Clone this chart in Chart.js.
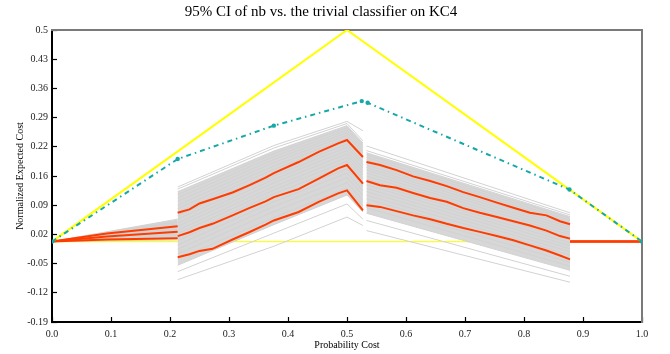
<!DOCTYPE html>
<html><head><meta charset="utf-8">
<script src="https://cdn.jsdelivr.net/npm/chart.js@4.4.1/dist/chart.umd.min.js"></script>
<style>html,body{margin:0;padding:0;background:#fff;}canvas{display:block;}</style>
</head><body>
<canvas id="c" width="670" height="354"></canvas>
<script>
// ---------- data ----------
const chartTitle = '95% CI of nb vs. the trivial classifier on KC4';
const xAxisTitle = 'Probability Cost';
const yAxisTitle = 'Normalized Expected Cost';
const xTickValues = [0,0.1,0.2,0.3,0.4,0.5,0.6,0.7,0.8,0.9,1.0];
const xTickLabels = ['0.0','0.1','0.2','0.3','0.4','0.5','0.6','0.7','0.8','0.9','1.0'];
const yTickValues = [-0.19,-0.121,-0.052,0.017,0.086,0.155,0.224,0.293,0.362,0.431,0.5];
const yTickLabels = ['-0.19','-0.12','-0.05','0.02','0.09','0.16','0.22','0.29','0.36','0.43','0.5'];

// trivial classifier
const trivialX = [0, 0.5, 1];
const trivialY = [0, 0.5, 0];
const zeroX = [0, 1];
const zeroY = [0, 0];

// dash-dot (teal) curve
const tealX = [0, 0.213, 0.376, 0.525, 0.535, 0.877, 1];
const tealY = [0, 0.195, 0.274, 0.332, 0.328, 0.123, 0];

// red curves: x per segment, y per segment
const redSegX = [
  [0, 0.093, 0.213],
  [0.213, 0.233, 0.250, 0.272, 0.306, 0.334, 0.362, 0.376, 0.418, 0.452, 0.485, 0.5, 0.527],
  [0.533, 0.556, 0.584, 0.612, 0.641, 0.669, 0.697, 0.725, 0.754, 0.782, 0.810, 0.838, 0.861, 0.878],
  [0.878, 1.0]
];
const redUpper = [
  [0, 0.019, 0.036],
  [0.068, 0.076, 0.090, 0.100, 0.116, 0.133, 0.151, 0.162, 0.188, 0.212, 0.232, 0.240, 0.200],
  [0.188, 0.181, 0.169, 0.154, 0.143, 0.131, 0.117, 0.105, 0.092, 0.080, 0.068, 0.062, 0.048, 0.041],
  [0, 0]
];
const redMiddle = [
  [0, 0.012, 0.023],
  [0.013, 0.022, 0.032, 0.042, 0.062, 0.079, 0.095, 0.105, 0.124, 0.149, 0.173, 0.181, 0.137],
  [0.143, 0.133, 0.127, 0.115, 0.103, 0.094, 0.079, 0.068, 0.058, 0.048, 0.038, 0.026, 0.013, 0.007],
  [0, 0]
];
const redLower = [
  [0, 0.005, 0.008],
  [-0.037, -0.030, -0.022, -0.017, 0.005, 0.022, 0.040, 0.050, 0.070, 0.094, 0.114, 0.121, 0.074],
  [0.086, 0.082, 0.072, 0.062, 0.053, 0.042, 0.032, 0.023, 0.013, 0.003, -0.009, -0.021, -0.033, -0.042],
  [0, 0]
];

// grey bootstrap curves: value of each curve at the segment ends
const grayX = [[0, 0.213], [0.213, 0.376, 0.5, 0.527], [0.533, 0.878]];
const grayA   = [0.053,0.051,0.048,0.047,0.045,0.042,0.041,0.039,0.036,0.035,0.033,0.030,0.029,0.027,0.024,0.023,0.021,0.018,0.017,0.015,0.012,0.010,0.007,0.004];
const grayB0  = [0.129,0.124,0.118,0.111,0.103,0.095,0.086,0.078,0.070,0.061,0.053,0.044,0.036,0.027,0.019,0.010,0.002,-0.008,-0.018,-0.029,-0.041,-0.056,-0.071,-0.090];
const grayMid = [0.227,0.221,0.214,0.208,0.201,0.194,0.187,0.179,0.171,0.163,0.155,0.147,0.139,0.130,0.122,0.113,0.104,0.094,0.083,0.071,0.057,0.040,0.020,-0.011];
const grayPeak= [0.284,0.279,0.274,0.269,0.263,0.257,0.251,0.244,0.237,0.230,0.223,0.215,0.207,0.199,0.190,0.181,0.172,0.162,0.151,0.139,0.126,0.110,0.089,0.058];
const grayD   = [0.262,0.238,0.233,0.228,0.222,0.216,0.210,0.203,0.196,0.189,0.182,0.174,0.166,0.158,0.149,0.140,0.131,0.121,0.110,0.098,0.085,0.070,0.053,0.038];
const grayE0  = [0.226,0.215,0.210,0.205,0.199,0.193,0.187,0.181,0.175,0.169,0.162,0.155,0.148,0.141,0.134,0.126,0.118,0.110,0.101,0.091,0.080,0.067,0.050,0.026];
const grayE1  = [0.068,0.063,0.059,0.055,0.050,0.045,0.040,0.034,0.028,0.022,0.016,0.010,0.004,-0.003,-0.010,-0.017,-0.024,-0.032,-0.040,-0.049,-0.058,-0.068,-0.082,-0.096];

// ---------- build ----------
function seg(xs, ys) { return xs.map((x, i) => ({x: x, y: ys[i]})); }
function joinSegs(xSegs, ySegs) {
  const out = [];
  xSegs.forEach((xs, k) => {
    if (k > 0) out.push({x: xs[0], y: null});
    out.push(...seg(xs, ySegs[k]));
  });
  return out;
}
const GRAY = '#d2d2d2';
const BAND = '#d7d7d7';
const datasets = [];
const base = {pointRadius: 0, fill: false, tension: 0, spanGaps: false};

// zero line
datasets.push({...base, data: seg(zeroX, zeroY), borderColor: '#ffff20', borderWidth: 1.3, order: 6});

// core bands
const n = grayA.length;
function bandPair(xs, topVals, botVals) {
  datasets.push({...base, data: seg(xs, topVals), borderWidth: 0, borderColor: 'rgba(0,0,0,0)', order: 5});
  datasets.push({...base, data: seg(xs, botVals), borderWidth: 0, borderColor: 'rgba(0,0,0,0)', fill: '-1', backgroundColor: BAND, order: 5});
}
bandPair(grayX[0], [0, grayA[1]], [0, grayA[n-2]]);
bandPair(grayX[1], [grayB0[2], grayMid[2], grayPeak[2], grayD[2]], [grayB0[n-3], grayMid[n-3], grayPeak[n-3], grayD[n-3]]);
bandPair(grayX[2], [grayE0[2], grayE1[2]], [grayE0[n-3], grayE1[n-3]]);

// grey lines
for (let i = 0; i < n; i++) {
  datasets.push({...base, borderColor: GRAY, borderWidth: 1, order: 4,
    data: joinSegs(grayX, [[0, grayA[i]], [grayB0[i], grayMid[i], grayPeak[i], grayD[i]], [grayE0[i], grayE1[i]]])});
}
// red lines
[redUpper, redMiddle, redLower].forEach(r => {
  datasets.push({...base, borderColor: '#ff3c00', borderWidth: 2, order: 2, data: joinSegs(redSegX, r)});
});
// trivial
datasets.push({...base, data: seg(trivialX, trivialY), borderColor: '#ffff00', borderWidth: 2, order: 1});
// teal
datasets.push({...base, data: seg(tealX, tealY), borderColor: '#16a8a8', borderWidth: 2,
  borderDash: [5, 4, 1.5, 4], pointRadius: 2.2, pointBackgroundColor: '#16a8a8', pointBorderWidth: 0, order: 0});

const serif = 'Liberation Serif';
new Chart(document.getElementById('c'), {
  type: 'line',
  data: {datasets},
  options: {
    responsive: false, animation: false, devicePixelRatio: 1,
    layout: {padding: {left: 0, right: 28, top: 0, bottom: 0}},
    plugins: {
      legend: {display: false}, tooltip: {enabled: false},
      title: {display: true, text: chartTitle, color: '#000',
        font: {family: serif, size: 15, weight: 'normal'}, padding: {top: 3, bottom: 9}}
    },
    scales: {
      x: {type: 'linear', min: 0, max: 1, position: 'bottom',
        afterBuildTicks: s => { s.ticks = xTickValues.map(v => ({value: v})); },
        afterFit: s => { s.height = 32; },
        ticks: {callback: (v, i) => xTickLabels[i], color: '#222', font: {family: serif, size: 10}, padding: 11, maxRotation: 0, autoSkip: false},
        grid: {drawOnChartArea: false, tickLength: -5, tickColor: '#000', tickWidth: 1.2},
        border: {color: '#000', width: 2},
        title: {display: true, text: xAxisTitle, color: '#000', font: {family: serif, size: 10}, padding: {top: 0, bottom: 3}}
      },
      y: {type: 'linear', min: -0.19, max: 0.5, position: 'left',
        afterBuildTicks: s => { s.ticks = yTickValues.map(v => ({value: v})); },
        afterFit: s => { s.width = 52; },
        ticks: {callback: (v, i) => yTickLabels[i], color: '#222', font: {family: serif, size: 10}, padding: 9, autoSkip: false},
        grid: {drawOnChartArea: false, tickLength: -5, tickColor: '#000', tickWidth: 1.2},
        border: {color: '#000', width: 2},
        title: {display: true, text: yAxisTitle, color: '#000', font: {family: serif, size: 10}, padding: {top: 14, bottom: 0}}
      },
      x2: {type: 'linear', min: 0, max: 1, position: 'top', display: true,
        afterFit: s => { s.height = 0; },
        ticks: {display: false}, grid: {display: false, drawTicks: false},
        border: {color: '#7a7a7a', width: 2}},
      y2: {type: 'linear', min: -0.19, max: 0.5, position: 'right', display: true,
        afterFit: s => { s.width = 0; },
        ticks: {display: false}, grid: {display: false, drawTicks: false},
        border: {color: '#7a7a7a', width: 2}}
    }
  }
});
</script>
</body></html>
